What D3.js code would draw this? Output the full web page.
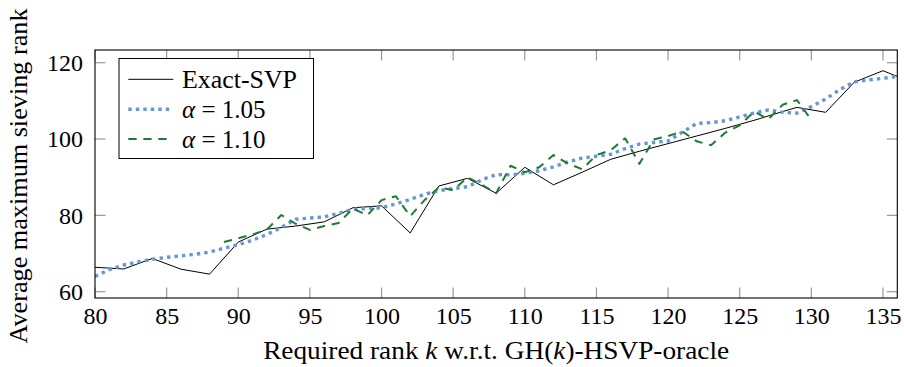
<!DOCTYPE html>
<html>
<head>
<meta charset="utf-8">
<script src="https://cdn.jsdelivr.net/npm/d3@7/dist/d3.min.js"></script>
</head>
<body style="margin:0">
<svg id="chart" width="904" height="367"></svg>
<script>
// Exact-SVP reference curve
const exactK = [80, 82, 84, 86, 88, 90, 92, 94, 96, 98, 100, 102, 104, 106, 108, 110, 112, 114, 116, 118, 120, 122, 124, 126, 128, 129, 131, 133, 135, 136];
const exactV = [66.4, 65.95, 68.7, 65.9, 64.6, 73.0, 76.4, 77.2, 78.3, 82.0, 82.5, 75.4, 87.7, 89.7, 85.8, 92.6, 88.0, 91.3, 94.7, 96.8, 98.8, 100.8, 102.8, 104.9, 107.2, 108.3, 107.0, 114.9, 117.9, 116.4];

// alpha = 1.05
const a105K = d3.range(80, 137);
const a105V = [64.0, 65.8, 67.0, 67.8, 68.5, 69.0, 69.4, 69.8, 70.4, 71.4,
               72.3, 73.5, 75.0, 76.8, 79.0, 79.3, 79.6, 80.5, 81.6, 81.8,
               82.0, 83.0, 84.2, 85.5, 86.5, 87.0, 87.5, 89.3, 90.7, 90.6,
               91.0, 91.7, 92.7, 94.0, 95.0, 95.5, 96.0, 97.5, 98.7, 99.1,
               99.5, 101.8, 104.1, 104.3, 104.8, 105.8, 106.8, 107.6, 107.0, 106.8,
               108.5, 110.5, 113.0, 115.0, 115.5, 115.9, 116.4];

// alpha = 1.10
const a110K = d3.range(89, 131);
const a110V = [73.0, 74.0, 75.0, 76.3, 80.1, 77.8, 76.2, 77.2, 78.0, 81.8,
               80.0, 84.0, 85.0, 79.8, 84.0, 87.3, 86.6, 90.0, 88.0, 85.8,
               93.0, 91.3, 92.6, 95.8, 93.6, 92.1, 95.8, 97.1, 100.2, 93.5,
               99.9, 100.8, 102.0, 99.4, 98.4, 101.7, 103.6, 107.2, 105.2, 109.0,
               110.2, 105.0];

const xTicks = [80, 85, 90, 95, 100, 105, 110, 115, 120, 125, 130, 135];
const yTicks = [60, 80, 100, 120];

const seriesNames = ["Exact-SVP", "\u03b1 = 1.05", "\u03b1 = 1.10"];

const fontName = ["Liberation Serif"][0];
const font = (sel, size) => sel
  .attr("font-family", fontName)
  .style("font-family", `'${fontName}'`)
  .attr("font-size", size)
  .attr("fill", "#000");

const svg = d3.select("#chart").style("font-family", `'${fontName}'`);
const plotL = 95, plotR = 897.3, plotT = 50, plotB = 298;

const x = d3.scaleLinear().domain([80, 136]).range([plotL, plotR]);
const y = d3.scaleLinear().domain([58.35, 123.33]).range([plotB, plotT]);

const line = d3.line().x(d => x(d[0])).y(d => y(d[1]));
const zip = (ks, vs) => ks.map((k, i) => [k, vs[i]]);

const styles = [
  { stroke: "#000000", width: 1, dash: null, cap: "butt" },
  { stroke: "#6797d2", width: 3.4, dash: "3.4 4.1", cap: "butt" },
  { stroke: "#1e7b34", width: 2, dash: "8.3 6.7", cap: "butt" }
];

// clip to the plot frame
svg.append("defs").append("clipPath").attr("id", "plotclip")
  .append("rect").attr("x", plotL).attr("y", plotT)
  .attr("width", plotR - plotL).attr("height", plotB - plotT);

// ticks (inside, mirrored on all four sides)
const tickLen = 10.5;
const tickG = svg.append("g").attr("stroke", "#999").attr("stroke-width", 1.2);
xTicks.forEach(t => {
  tickG.append("line").attr("x1", x(t)).attr("x2", x(t)).attr("y1", plotB).attr("y2", plotB - tickLen);
  tickG.append("line").attr("x1", x(t)).attr("x2", x(t)).attr("y1", plotT).attr("y2", plotT + tickLen);
});
yTicks.forEach(t => {
  tickG.append("line").attr("x1", plotL).attr("x2", plotL + tickLen).attr("y1", y(t)).attr("y2", y(t));
  tickG.append("line").attr("x1", plotR).attr("x2", plotR - tickLen).attr("y1", y(t)).attr("y2", y(t));
});

// data lines
const plot = svg.append("g").attr("clip-path", "url(#plotclip)");
const data = [zip(exactK, exactV), zip(a105K, a105V), zip(a110K, a110V)];
data.forEach((d, i) => {
  const s = styles[i];
  plot.append("path").datum(d)
    .attr("d", line)
    .attr("fill", "none")
    .attr("stroke", s.stroke)
    .attr("stroke-width", s.width)
    .attr("stroke-linecap", s.cap)
    .attr("stroke-linejoin", "round")
    .attr("stroke-dasharray", s.dash);
});

// frame
svg.append("rect").attr("x", plotL).attr("y", plotT)
  .attr("width", plotR - plotL).attr("height", plotB - plotT)
  .attr("fill", "none").attr("stroke", "#000").attr("stroke-width", 1.1);

// tick labels via d3 axes (lines hidden, labels kept)
const xAxis = svg.append("g").attr("transform", `translate(0,${plotB})`)
  .call(d3.axisBottom(x).tickValues(xTicks).tickSize(0).tickPadding(9));
const yAxis = svg.append("g").attr("transform", `translate(${plotL},0)`)
  .call(d3.axisLeft(y).tickValues(yTicks).tickSize(0).tickPadding(12));
[xAxis, yAxis].forEach(a => {
  a.attr("font-family", fontName).attr("font-size", 24);
  a.select(".domain").remove();
  font(a.selectAll("text"), 24);
});

// axis titles
const xt = font(svg.append("text"), 25)
  .attr("x", (plotL + plotR) / 2).attr("y", 359)
  .attr("text-anchor", "middle")
  .attr("textLength", 466).attr("lengthAdjust", "spacingAndGlyphs");
xt.append("tspan").text("Required rank ");
xt.append("tspan").attr("font-style", "italic").text("k");
xt.append("tspan").text(" w.r.t. GH(");
xt.append("tspan").attr("font-style", "italic").text("k");
xt.append("tspan").text(")-HSVP-oracle");

font(svg.append("text"), 25)
  .attr("transform", `translate(27,${(plotT + plotB) / 2 + 2}) rotate(-90)`)
  .attr("text-anchor", "middle")
  .attr("textLength", 335).attr("lengthAdjust", "spacingAndGlyphs")
  .text("Average maximum sieving rank");

// legend
const lg = svg.append("g");
lg.append("rect").attr("x", 119).attr("y", 58.5).attr("width", 194.5).attr("height", 100)
  .attr("fill", "#fff").attr("stroke", "#000").attr("stroke-width", 1);
const rowY = [79.3, 109.3, 139];
seriesNames.forEach((name, i) => {
  const s = styles[i];
  lg.append("line").attr("x1", 128.3).attr("x2", 173.3).attr("y1", rowY[i]).attr("y2", rowY[i])
    .attr("stroke", s.stroke).attr("stroke-width", s.width)
    .attr("stroke-dasharray", s.dash).attr("stroke-linecap", s.cap);
  const t = font(lg.append("text"), 25).attr("x", 182).attr("y", rowY[i] + 8.5);
  if (i === 0) {
    t.attr("textLength", 115).attr("lengthAdjust", "spacingAndGlyphs").text(name);
  } else {
    const parts = name.split(" = ");
    t.append("tspan").attr("font-style", "italic").text(parts[0]);
    t.append("tspan").text(" = " + parts[1]);
  }
});
</script>
</body>
</html>
